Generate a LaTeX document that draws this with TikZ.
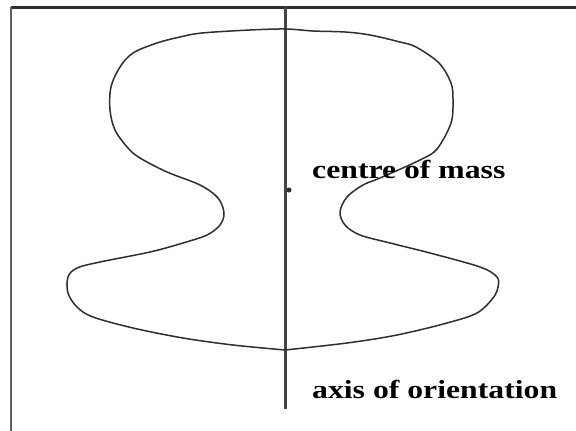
\documentclass[tikz,border=0pt]{standalone}
\usepackage{fontspec}
\usepackage{graphicx}
\setmainfont{Liberation Serif}
\definecolor{linegray}{HTML}{2E2E2E}
\definecolor{axisgray}{HTML}{444444}
\tikzset{
  frameline/.style={draw=linegray, line width=3pt},
  sideline/.style={draw=axisgray!85, line width=2pt},
  axisline/.style={draw=axisgray, line width=2.3pt},
  outline/.style={draw=linegray, line width=1.5pt, line join=round},
  labeltext/.style={anchor=base west, inner sep=0pt, text=black},
}
\newcommand{\labfont}{\fontsize{26}{30}\selectfont\bfseries}
\begin{document}
\begin{tikzpicture}[x=1pt,y=-1pt]
\useasboundingbox (0,0) rectangle (576,431);
% frame
\coordinate (tl) at (11,7);
\coordinate (tr) at (576,7);
\coordinate (bl) at (11,431);
\draw[frameline] (tl) -- (tr);
\draw[sideline] (tl) -- (bl);
% axis
\coordinate (axtop) at (285.5,7);
\coordinate (axbot) at (285.5,409);
\draw[axisline] (axtop) -- (axbot);
% shape
\draw[outline] plot[smooth, tension=0.55] coordinates {
 (285,350) (233,345) (183,338) (133,328) (93,317) (77,307) (68,293) (68,277)
 (77,268) (100,262) (150,252) (183,243) (207,235) (220,225) (224,213) (218,198)
 (200,185) (167,172) (140,158) (128,148) (115,130) (110,110) (111,87) (120,67)
 (133,53) (157,43) (180,37) (202,33) (250,30) (286,29) (313,31) (345,32) (370,35)
 (400,42) (416,47) (439,63) (451,83) (453,100) (451,123) (437,149) (420,160)
 (380,178) (363,185) (347,197) (340,212) (345,225) (360,235) (390,243) (430,253)
 (480,267) (497,277) (498,287) (493,298) (477,313) (447,323) (397,335) (347,343)
 (285,350)};
% centre of mass mark
\node[circle, fill=linegray, inner sep=0pt, minimum size=5pt] (cm) at (289,190) {};
% labels
\node[labeltext] (comlabel) at (312,178) {\scalebox{1.22}[1]{\labfont centre of mass}};
\node[labeltext] (axlabel) at (312,398) {\scalebox{1.22}[1]{\labfont axis of orientation}};
\end{tikzpicture}
\end{document}
